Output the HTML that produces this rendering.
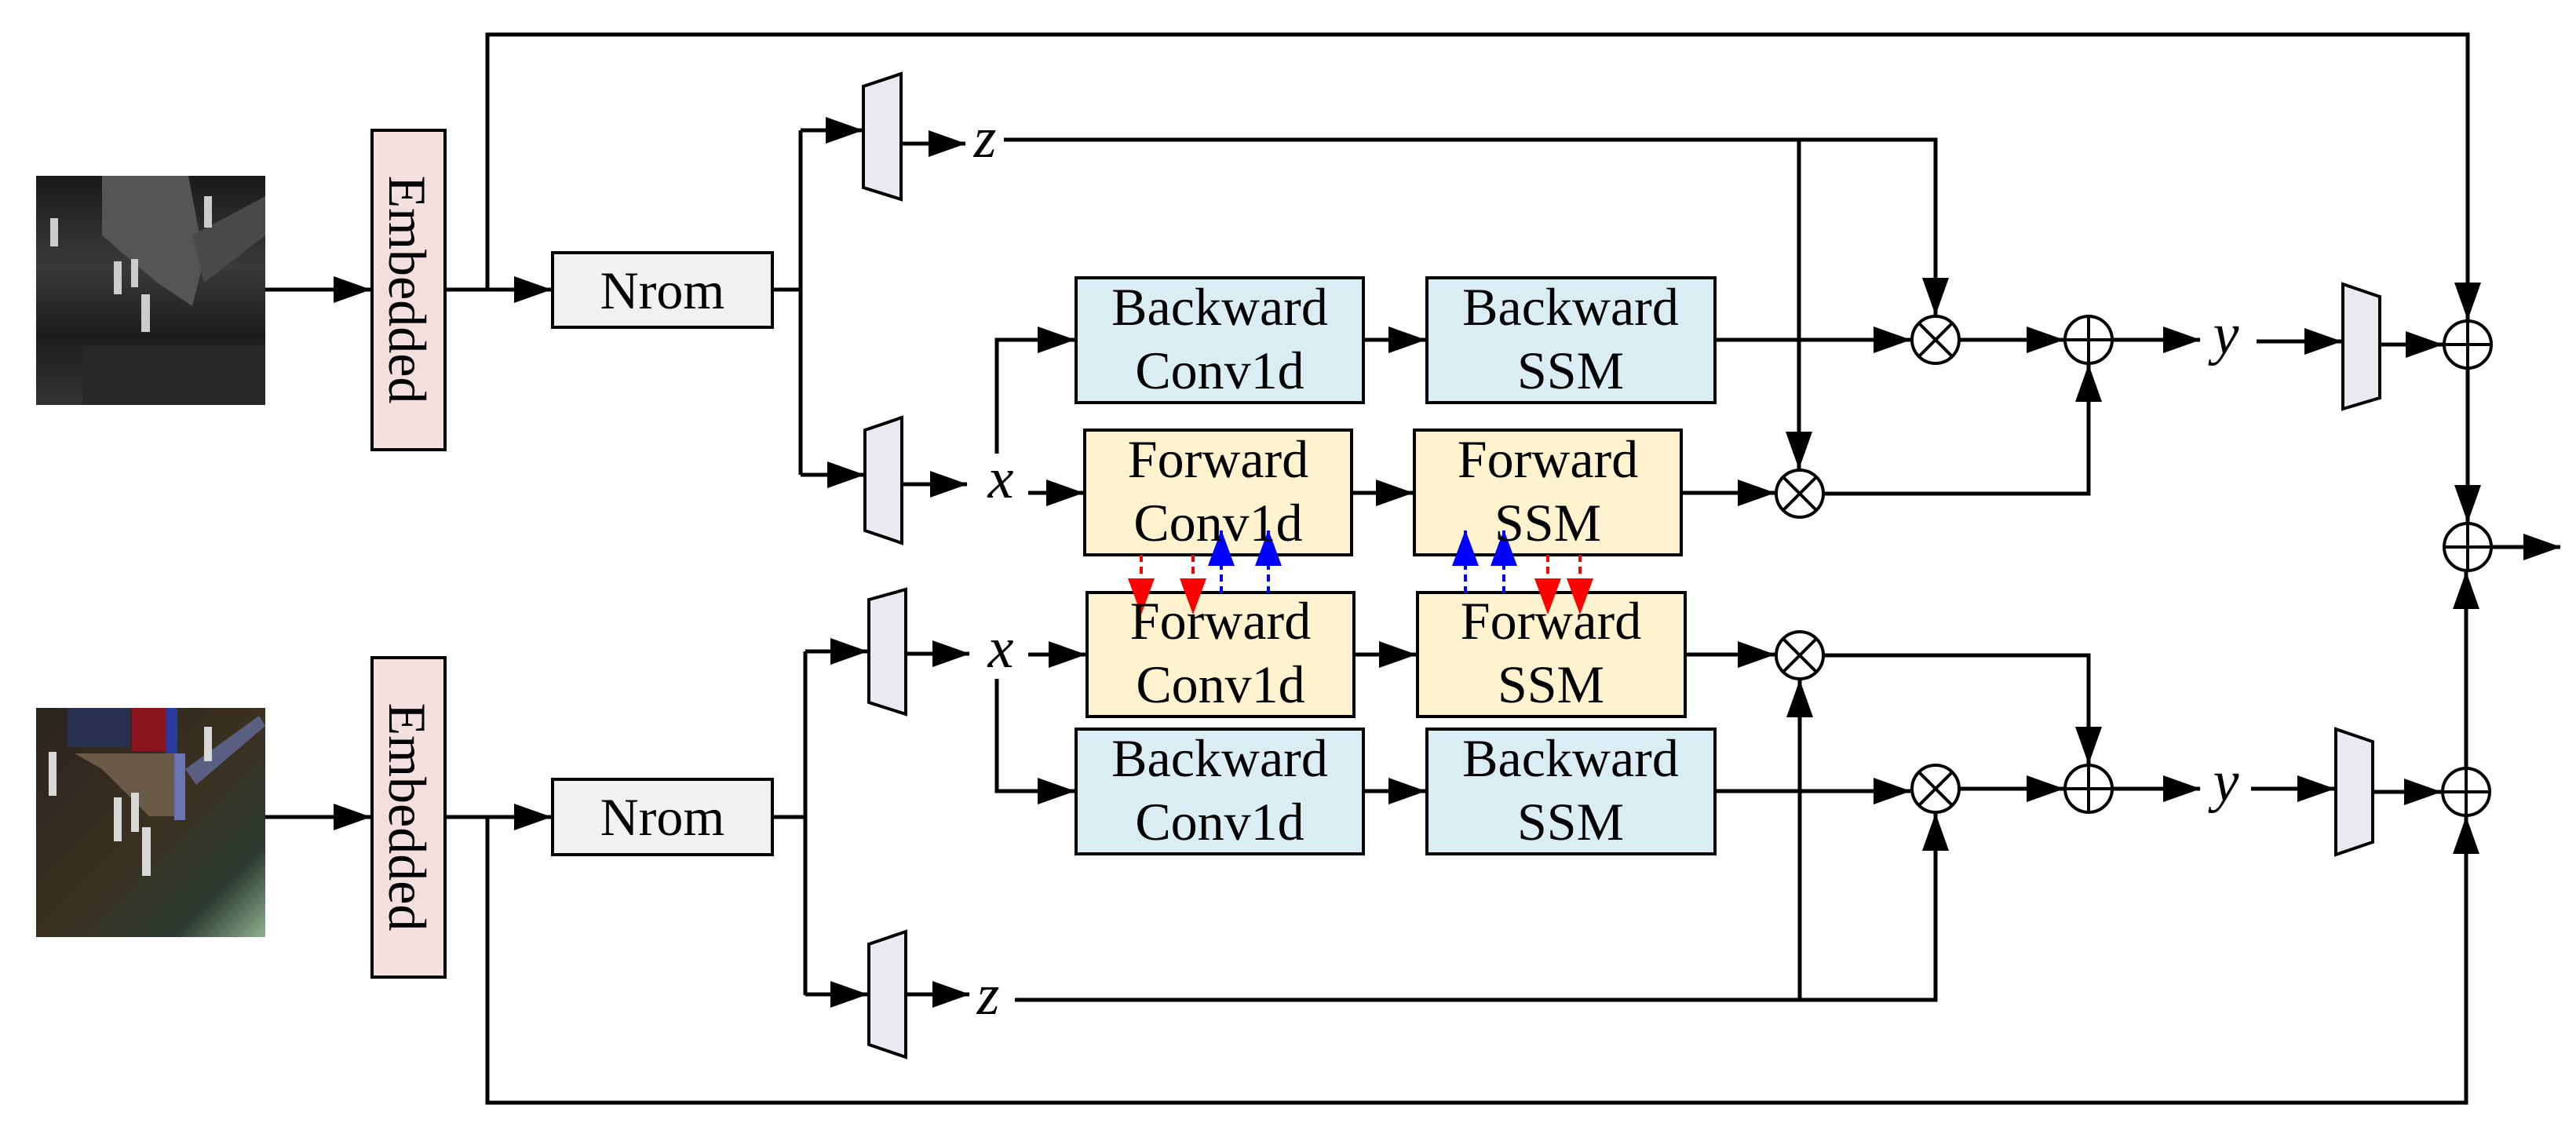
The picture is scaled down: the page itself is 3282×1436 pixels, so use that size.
<!DOCTYPE html>
<html><head><meta charset="utf-8"><style>
html,body{margin:0;padding:0;background:#fff;}
svg{display:block;}
text{font-family:"Liberation Serif",serif;fill:#000;}
.m{font-style:italic;font-size:74px;}
</style></head><body>
<svg width="3282" height="1436" viewBox="0 0 3282 1436" xmlns="http://www.w3.org/2000/svg">
<defs>
<marker id="a" markerUnits="userSpaceOnUse" markerWidth="48" markerHeight="34" refX="47" refY="17" orient="auto"><path d="M0,0 L48,17 L0,34z" fill="#000"/></marker>
<marker id="r" markerUnits="userSpaceOnUse" markerWidth="46" markerHeight="34" refX="45" refY="17" orient="auto"><path d="M0,0 L46,17 L0,34z" fill="#f00"/></marker>
<marker id="b" markerUnits="userSpaceOnUse" markerWidth="46" markerHeight="34" refX="45" refY="17" orient="auto"><path d="M0,0 L46,17 L0,34z" fill="#00f"/></marker>
<linearGradient id="g1" x1="0" y1="0" x2="0" y2="1"><stop offset="0" stop-color="#1a1a1a"/><stop offset="0.4" stop-color="#3a3a3a"/><stop offset="0.7" stop-color="#1c1c1c"/><stop offset="1" stop-color="#333"/></linearGradient>
<linearGradient id="g2" x1="0" y1="0" x2="1" y2="1"><stop offset="0" stop-color="#2a2420"/><stop offset="0.5" stop-color="#3a3020"/><stop offset="0.8" stop-color="#2c3a30"/><stop offset="1" stop-color="#8fb090"/></linearGradient>
</defs>

<!-- top image -->
<rect x="46" y="224" width="292" height="292" fill="url(#g1)"/>
<polygon points="130,224 240,224 260,330 245,390 200,360 130,300" fill="#555"/>
<polygon points="245,300 338,250 338,300 260,360" fill="#4a4a4a"/>
<rect x="105" y="440" width="233" height="76" fill="#282828"/>
<g fill="#ccc">
<rect x="64" y="278" width="10" height="36"/><rect x="145" y="333" width="10" height="42"/><rect x="167" y="330" width="9" height="36"/><rect x="180" y="375" width="11" height="48"/><rect x="260" y="250" width="10" height="40"/>
</g>
<!-- bottom image -->
<rect x="46" y="902" width="292" height="292" fill="url(#g2)"/>
<rect x="86" y="902" width="80" height="50" fill="#2a3050"/>
<rect x="168" y="902" width="44" height="55" fill="#8a1420"/>
<rect x="212" y="902" width="14" height="60" fill="#2a3aa0"/>
<polygon points="95,960 222,960 230,1040 190,1040 130,980" fill="#6a5a48"/>
<polygon points="222,960 236,960 236,1045 222,1045" fill="#6a74b0"/>
<polygon points="236,980 330,912 338,925 250,1000" fill="#5a5e80"/>
<g fill="#d8d8d8">
<rect x="62" y="958" width="10" height="56"/><rect x="145" y="1016" width="10" height="56"/><rect x="167" y="1010" width="10" height="50"/><rect x="181" y="1054" width="11" height="62"/><rect x="260" y="926" width="10" height="44"/>
</g>

<g stroke="#000" stroke-width="5" fill="none">
<!-- top row left -->
<path d="M338,369 H472" marker-end="url(#a)"/>
<path d="M567,369 H702" marker-end="url(#a)"/>
<path d="M621,369 V44 H3144 V407" marker-end="url(#a)"/>
<path d="M984,369 H1020"/>
<path d="M1020,166 V605"/>
<path d="M1020,166 H1099" marker-end="url(#a)"/>
<path d="M1020,605 H1101" marker-end="url(#a)"/>
<path d="M1148,183 H1230" marker-end="url(#a)"/>
<path d="M1149,617 H1232" marker-end="url(#a)"/>
<path d="M1270,578 V433 H1369" marker-end="url(#a)"/>
<path d="M1310,628 H1380" marker-end="url(#a)"/>
<path d="M1737,433 H1816" marker-end="url(#a)"/>
<path d="M1722,628 H1800" marker-end="url(#a)"/>
<path d="M2185,433 H2434" marker-end="url(#a)"/>
<path d="M2142,628 H2261" marker-end="url(#a)"/>
<path d="M1279,178 H2466 V401" marker-end="url(#a)"/>
<path d="M2292,178 V597" marker-end="url(#a)"/>
<path d="M2496,433 H2629" marker-end="url(#a)"/>
<path d="M2323,629 H2661 V465" marker-end="url(#a)"/>
<path d="M2691,433 H2803" marker-end="url(#a)"/>
<path d="M2875,435 H2983" marker-end="url(#a)"/>
<path d="M3032,439 H3112" marker-end="url(#a)"/>
<path d="M3144,469 V665" marker-end="url(#a)"/>
<path d="M3174,697 H3262" marker-end="url(#a)"/>

<!-- bottom row -->
<path d="M338,1041 H472" marker-end="url(#a)"/>
<path d="M567,1041 H702" marker-end="url(#a)"/>
<path d="M621,1041 V1405 H3142 V1041" marker-end="url(#a)"/>
<path d="M984,1041 H1026"/>
<path d="M1026,830 V1268"/>
<path d="M1026,830 H1105" marker-end="url(#a)"/>
<path d="M1026,1267 H1105" marker-end="url(#a)"/>
<path d="M1154,833 H1235" marker-end="url(#a)"/>
<path d="M1154,1267 H1235" marker-end="url(#a)"/>
<path d="M1270,865 V1008 H1369" marker-end="url(#a)"/>
<path d="M1310,834 H1383" marker-end="url(#a)"/>
<path d="M1737,1008 H1816" marker-end="url(#a)"/>
<path d="M1725,834 H1804" marker-end="url(#a)"/>
<path d="M2185,1008 H2434" marker-end="url(#a)"/>
<path d="M2147,834 H2261" marker-end="url(#a)"/>
<path d="M1293,1274 H2466 V1037" marker-end="url(#a)"/>
<path d="M2293,1274 V867" marker-end="url(#a)"/>
<path d="M2323,835 H2661 V973" marker-end="url(#a)"/>
<path d="M2496,1005 H2629" marker-end="url(#a)"/>
<path d="M2691,1005 H2803" marker-end="url(#a)"/>
<path d="M2868,1005 H2974" marker-end="url(#a)"/>
<path d="M3023,1009 H3110" marker-end="url(#a)"/>
<path d="M3142,979 V729" marker-end="url(#a)"/>
</g>

<!-- boxes -->
<g stroke="#000" stroke-width="4">
<rect x="474" y="166" width="93" height="407" fill="#f2dfde"/>
<rect x="474" y="838" width="93" height="407" fill="#f2dfde"/>
<rect x="704" y="322" width="280" height="95" fill="#f1f1f1"/>
<rect x="704" y="993" width="280" height="96" fill="#f1f1f1"/>
<rect x="1371" y="354" width="366" height="159" fill="#daedf2"/>
<rect x="1818" y="354" width="367" height="159" fill="#daedf2"/>
<rect x="1382" y="548" width="340" height="159" fill="#fff2cf"/>
<rect x="1802" y="548" width="340" height="159" fill="#fff2cf"/>
<rect x="1385" y="755" width="340" height="158" fill="#fff2cf"/>
<rect x="1806" y="755" width="341" height="158" fill="#fff2cf"/>
<rect x="1371" y="929" width="366" height="159" fill="#daedf2"/>
<rect x="1818" y="929" width="367" height="159" fill="#daedf2"/>
<polygon points="1100,110 1148,94 1148,254 1100,239" fill="#ebe8f0"/>
<polygon points="1102,548 1149,532 1149,692 1102,676" fill="#ebe8f0"/>
<polygon points="1107,764 1154,751 1154,910 1107,895" fill="#ebe8f0"/>
<polygon points="1107,1203 1154,1187 1154,1347 1107,1331" fill="#ebe8f0"/>
<polygon points="2985,362 3032,378 3032,507 2985,521" fill="#ebe8f0"/>
<polygon points="2976,929 3023,945 3023,1073 2976,1089" fill="#ebe8f0"/>
</g>

<!-- circles -->
<g stroke="#000" stroke-width="4" fill="#fff">
<circle cx="2466" cy="433" r="30"/><path d="M2445,412 L2487,454 M2487,412 L2445,454"/>
<circle cx="2293" cy="629" r="30"/><path d="M2272,608 L2314,650 M2314,608 L2272,650"/>
<circle cx="2661" cy="433" r="30"/><path d="M2631,433 H2691 M2661,403 V463"/>
<circle cx="3144" cy="439" r="30"/><path d="M3114,439 H3174 M3144,409 V469"/>
<circle cx="3144" cy="697" r="30"/><path d="M3114,697 H3174 M3144,667 V727"/>
<circle cx="2293" cy="835" r="30"/><path d="M2272,814 L2314,856 M2314,814 L2272,856"/>
<circle cx="2466" cy="1005" r="30"/><path d="M2445,984 L2487,1026 M2487,984 L2445,1026"/>
<circle cx="2661" cy="1005" r="30"/><path d="M2631,1005 H2691 M2661,975 V1035"/>
<circle cx="3142" cy="1009" r="30"/><path d="M3112,1009 H3172 M3142,979 V1039"/>
</g>

<!-- dashed cross arrows -->
<g stroke-width="4" stroke-dasharray="9,6" fill="none">
<path d="M1454,707 V782" stroke="#f00" marker-end="url(#r)"/>
<path d="M1520,707 V782" stroke="#f00" marker-end="url(#r)"/>
<path d="M1972,707 V782" stroke="#f00" marker-end="url(#r)"/>
<path d="M2013,707 V782" stroke="#f00" marker-end="url(#r)"/>
<path d="M1556,756 V676" stroke="#00f" marker-end="url(#b)"/>
<path d="M1616,756 V676" stroke="#00f" marker-end="url(#b)"/>
<path d="M1867,756 V676" stroke="#00f" marker-end="url(#b)"/>
<path d="M1916,756 V676" stroke="#00f" marker-end="url(#b)"/>
</g>

<!-- text -->
<g font-size="68" text-anchor="middle">
<text x="520" y="369" transform="rotate(90 520 369)" dy="24">Embedded</text>
<text x="520" y="1041" transform="rotate(90 520 1041)" dy="24">Embedded</text>
<text x="844" y="393">Nrom</text>
<text x="844" y="1064">Nrom</text>
<text x="1554" y="414">Backward</text><text x="1554" y="495">Conv1d</text>
<text x="2001" y="414">Backward</text><text x="2001" y="495">SSM</text>
<text x="1552" y="608">Forward</text><text x="1552" y="689">Conv1d</text>
<text x="1972" y="608">Forward</text><text x="1972" y="689">SSM</text>
<text x="1555" y="814">Forward</text><text x="1555" y="895">Conv1d</text>
<text x="1976" y="814">Forward</text><text x="1976" y="895">SSM</text>
<text x="1554" y="989">Backward</text><text x="1554" y="1070">Conv1d</text>
<text x="2001" y="989">Backward</text><text x="2001" y="1070">SSM</text>
</g>
<g class="m" text-anchor="middle">
<text x="1255" y="200" class="m">z</text>
<text x="1275" y="634" class="m">x</text>
<text x="1275" y="850" class="m">x</text>
<text x="1259" y="1292" class="m">z</text>
<text x="2836" y="450" class="m">y</text>
<text x="2836" y="1020" class="m">y</text>
</g>
</svg>
</body></html>
